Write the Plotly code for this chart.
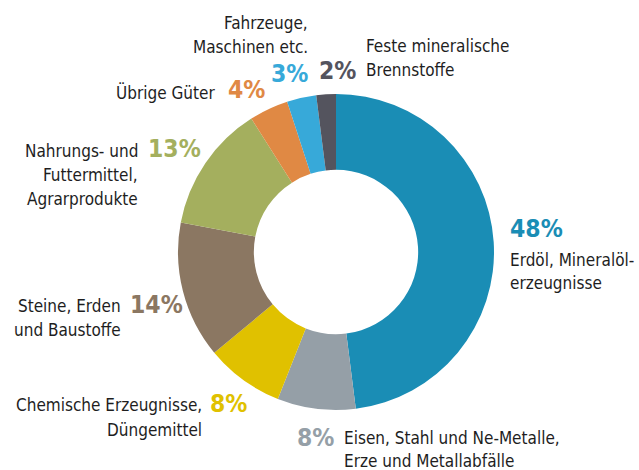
import plotly.graph_objects as go

# Data
categories = ["Erdöl, Mineralölerzeugnisse", "Eisen, Stahl und Ne-Metalle, Erze und Metallabfälle",
              "Chemische Erzeugnisse, Düngemittel", "Steine, Erden und Baustoffe",
              "Nahrungs- und Futtermittel, Agrarprodukte", "Übrige Güter",
              "Fahrzeuge, Maschinen etc.", "Feste mineralische Brennstoffe"]
shares = [48, 8, 8, 14, 13, 4, 3, 2]
colors = ["#1a8db5", "#959fa7", "#e0c100", "#8b7762", "#a4af5e", "#e08944", "#37a9d9", "#54545e"]

W, H = 639, 470
FONT = "DejaVu Sans Condensed, Roboto, sans-serif"
cx, cy, R = 336, 252, 158

fig = go.Figure(go.Pie(
    labels=categories, values=shares, sort=False, direction="clockwise", rotation=0,
    hole=0.52, marker=dict(colors=colors, line=dict(width=0)),
    textinfo="none", hoverinfo="label+percent", showlegend=False,
    domain=dict(x=[(cx - R) / W, (cx + R) / W], y=[1 - (cy + R) / H, 1 - (cy - R) / H]),
))

def px(x, y):
    return x / W, 1 - y / H

annots = []
def text(x, y, s, xa, size=17, color="#1e1e1e", bold=False):
    ax, ay = px(x, y)
    annots.append(dict(x=ax, y=ay, xref="paper", yref="paper", text=("<b>%s</b>" % s) if bold else s,
                       showarrow=False, xanchor=xa, yanchor="middle",
                       font=dict(family=FONT, size=size, color=color)))

pct = [f"{v}%" for v in shares]
PS = 24.5
# 48% Erdöl
text(508, 228, pct[0], "left", PS, colors[0], True)
text(508, 260, "Erdöl, Mineralöl-", "left")
text(508, 283, "erzeugnisse", "left")
# 8% Eisen
text(336, 437, pct[1], "right", PS, colors[1], True)
text(342, 438, "Eisen, Stahl und Ne-Metalle,", "left")
text(342, 461, "Erze und Metallabfälle", "left")
# 8% Chemische
text(208, 403, pct[2], "left", PS, colors[2], True)
text(204, 405, "Chemische Erzeugnisse,", "right")
text(204, 430, "Düngemittel", "right")
# 14% Steine
text(128, 304, pct[3], "left", PS, colors[3], True)
text(123, 306, "Steine, Erden", "right")
text(123, 330, "und Baustoffe", "right")
# 13% Nahrungs
text(146, 148, pct[4], "left", PS, colors[4], True)
text(140, 151, "Nahrungs- und", "right")
text(140, 175, "Futtermittel,", "right")
text(140, 199, "Agrarprodukte", "right")
# 4% Übrige
text(226, 90, pct[5], "left", PS, colors[5], True)
text(217, 92, "Übrige Güter", "right")
# 3% Fahrzeuge
text(310, 73, pct[6], "right", PS, colors[6], True)
text(310, 23, "Fahrzeuge,", "right")
text(310, 47, "Maschinen etc.", "right")
# 2% Feste
text(317, 71, pct[7], "left", PS, colors[7], True)
text(364, 46, "Feste mineralische", "left")
text(364, 70, "Brennstoffe", "left")

fig.update_layout(width=W, height=H, margin=dict(l=0, r=0, t=0, b=0),
                  paper_bgcolor="white", plot_bgcolor="white", annotations=annots)
fig.write_html("out.html")
